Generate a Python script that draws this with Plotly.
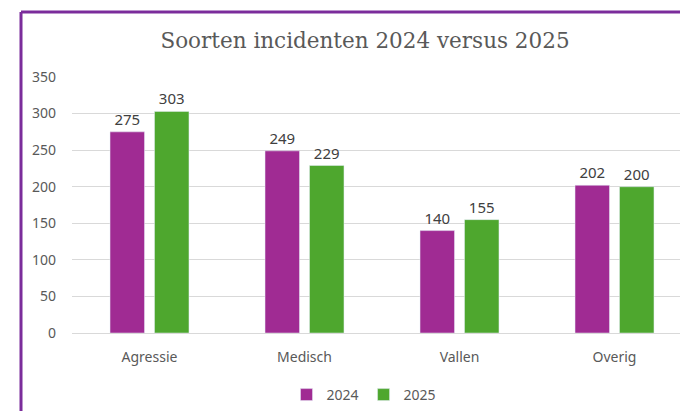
import plotly.graph_objects as go

categories = ["Agressie", "Medisch", "Vallen", "Overig"]
values_2024 = [275, 249, 140, 202]
values_2025 = [303, 229, 155, 200]
series_names = ["2024", "2025"]
y_ticks = [0, 50, 100, 150, 200, 250, 300, 350]

# page body has an 8px margin, so the figure is drawn 8px in from the window edge
OFF = 8
W, H = 688 - OFF, 411 - OFF
ml, mr, mt, mb = 72 - OFF, 0, 77 - OFF, 411 - 333
pw, ph = W - ml - mr, H - mt - mb
cat_step = 155  # px per category in the reference (plot area runs past the window edge)

fig = go.Figure()
for name, vals, color in [(series_names[0], values_2024, "#A02B93"),
                          (series_names[1], values_2025, "#4EA72E")]:
    fig.add_trace(go.Bar(
        x=categories, y=vals, name=name, marker_color=color,
        text=vals, textposition="outside", cliponaxis=False,
        textfont=dict(family="Noto Sans", size=15, color="#404040"),
    ))

def px_x(p):
    return (p - OFF - ml) / pw

def px_y(p):
    return (H - mb - (p - OFF)) / ph

fig.update_layout(
    width=W, height=H,
    margin=dict(l=ml, r=mr, t=mt, b=mb),
    paper_bgcolor="white", plot_bgcolor="white",
    barmode="group", bargap=0.426, bargroupgap=0.225,
    title=dict(text="Soorten incidenten 2024 versus 2025", x=(365 - OFF) / W, xref="container",
               xanchor="center", y=1 - (40 - OFF) / H, yanchor="middle",
               font=dict(family="DejaVu Serif", size=21.5, color="#595959")),
    legend=dict(orientation="h", xref="container", yref="container",
                x=(364 - OFF) / W, xanchor="center", y=(411 - 395) / H, yanchor="middle",
                font=dict(family="Noto Sans", size=14, color="#595959"),
                itemwidth=30, traceorder="normal"),
    xaxis=dict(range=[-0.5, -0.5 + pw / cat_step], showgrid=False, showline=False,
               ticks="", ticklabelstandoff=14,
               tickfont=dict(family="Noto Sans", size=14, color="#595959")),
    yaxis=dict(range=[0, 350], tickvals=y_ticks, showgrid=True, gridcolor="#D9D9D9",
               gridwidth=1, zeroline=True, zerolinecolor="#D9D9D9", zerolinewidth=1,
               showline=False, ticks="", ticklabelstandoff=15,
               tickfont=dict(family="Noto Sans", size=14, color="#595959")),
    font=dict(family="Noto Sans"),
    shapes=[
        dict(type="line", xref="paper", yref="paper",
             x0=px_x(21), x1=px_x(720), y0=px_y(12), y1=px_y(12),
             line=dict(color="#7B2C9B", width=3)),
        dict(type="line", xref="paper", yref="paper",
             x0=px_x(21), x1=px_x(21), y0=px_y(12), y1=px_y(440),
             line=dict(color="#7B2C9B", width=3)),
    ],
)

fig.write_html("out.html")
